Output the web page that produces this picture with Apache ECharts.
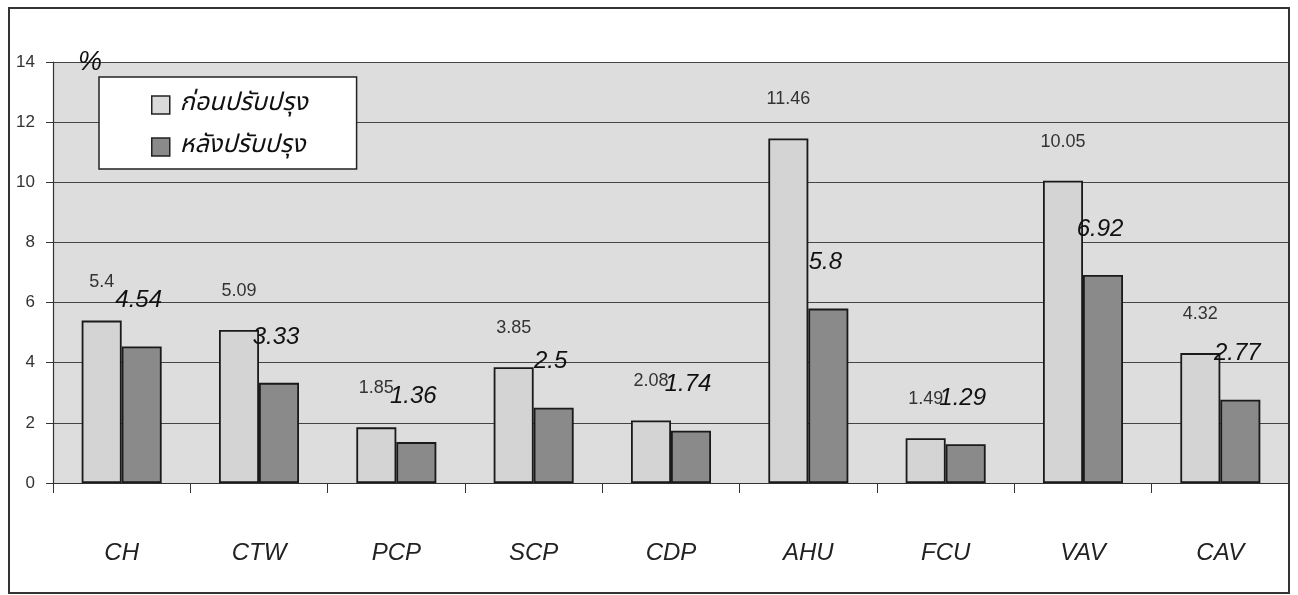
<!DOCTYPE html>
<html>
<head>
<meta charset="utf-8">
<style>
  html, body { margin: 0; padding: 0; background: #ffffff; }
  #chart { width: 1298px; height: 595px; }
</style>
<script src="https://cdn.jsdelivr.net/npm/echarts@6/dist/echarts.min.js"></script>
</head>
<body>
<div id="chart"></div>
<script>
// Equipment categories along the x axis
var categories = ['CH', 'CTW', 'PCP', 'SCP', 'CDP', 'AHU', 'FCU', 'VAV', 'CAV'];
// Percentage before improvement
var beforeValues = [5.4, 5.09, 1.85, 3.85, 2.08, 11.46, 1.49, 10.05, 4.32];
// Percentage after improvement
var afterValues = [4.54, 3.33, 1.36, 2.5, 1.74, 5.8, 1.29, 6.92, 2.77];
// Series names shown in the legend
var seriesNames = ['ก่อนปรับปรุง', 'หลังปรับปรุง'];
// Y axis range
var yMin = 0, yMax = 14, yStep = 2;

var thaiFont = '"Noto Sans Thai", "Loma", "Garuda", "Tahoma", "Noto Sans", sans-serif';
var latinFont = 'Arial, "Liberation Sans", sans-serif';

var chart = echarts.init(document.getElementById('chart'));

chart.setOption({
  backgroundColor: '#ffffff',
  animation: false,
  grid: {
    left: 53, right: 9, top: 62, bottom: 112,
    show: true,
    backgroundColor: '#dddddd',
    borderWidth: 0
  },
  legend: {
    orient: 'vertical',
    left: 99, top: 77,
    backgroundColor: '#ffffff',
    borderColor: '#222222',
    borderWidth: 1.5,
    borderRadius: 0,
    padding: [14, 49, 8, 52],
    icon: 'rect',
    itemWidth: 18, itemHeight: 18,
    itemGap: 14,
    textStyle: {
      fontFamily: thaiFont,
      fontStyle: 'italic',
      fontSize: 25,
      color: '#111111',
      lineHeight: 28,
      padding: [0, 0, 0, 5]
    },
    data: [
      { name: seriesNames[0], itemStyle: { color: '#dadada', borderColor: '#222', borderWidth: 1.5 } },
      { name: seriesNames[1], itemStyle: { color: '#8a8a8a', borderColor: '#222', borderWidth: 1.5 } }
    ]
  },
  xAxis: {
    type: 'category',
    data: categories,
    boundaryGap: true,
    axisLine: { show: true, lineStyle: { color: '#333333', width: 1.2 } },
    axisTick: { show: true, length: 10, lineStyle: { color: '#333333', width: 1 } },
    axisLabel: {
      margin: 58,
      fontFamily: latinFont,
      fontStyle: 'italic',
      fontSize: 24,
      color: '#222222'
    },
    splitLine: { show: false }
  },
  yAxis: {
    type: 'value',
    min: yMin, max: yMax, interval: yStep,
    name: '%',
    nameLocation: 'end',
    nameGap: 0,
    nameTextStyle: {
      fontFamily: latinFont, fontStyle: 'italic', fontSize: 27, color: '#111111',
      align: 'left', verticalAlign: 'middle', padding: [0, 0, 0, 25]
    },
    axisLine: { show: true, lineStyle: { color: '#333333', width: 1.2 } },
    axisTick: { show: true, length: 7, lineStyle: { color: '#333333', width: 1 } },
    axisLabel: {
      margin: 18,
      fontFamily: latinFont,
      fontSize: 17,
      color: '#333333'
    },
    splitLine: { show: true, lineStyle: { color: '#444444', width: 1 } }
  },
  series: [
    {
      name: seriesNames[0],
      type: 'bar',
      data: beforeValues,
      barWidth: 40,
      barGap: '0%',
      itemStyle: { color: '#d4d4d4', borderColor: '#1a1a1a', borderWidth: 1.8 },
      label: {
        show: true,
        position: 'top',
        distance: 30,
        fontFamily: latinFont,
        fontSize: 18,
        color: '#333333'
      }
    },
    {
      name: seriesNames[1],
      type: 'bar',
      data: afterValues,
      barWidth: 40,
      barGap: '0%',
      itemStyle: { color: '#8a8a8a', borderColor: '#1a1a1a', borderWidth: 1.8 },
      label: {
        show: true,
        position: 'top',
        distance: 34,
        offset: [-3, 0],
        fontFamily: latinFont,
        fontStyle: 'italic',
        fontSize: 24,
        color: '#111111'
      }
    }
  ],
  graphic: [
    {
      type: 'rect',
      silent: true,
      z: 100,
      shape: { x: 9, y: 8, width: 1280, height: 585 },
      style: { fill: 'none', stroke: '#333333', lineWidth: 2 }
    }
  ]
});
</script>
</body>
</html>
